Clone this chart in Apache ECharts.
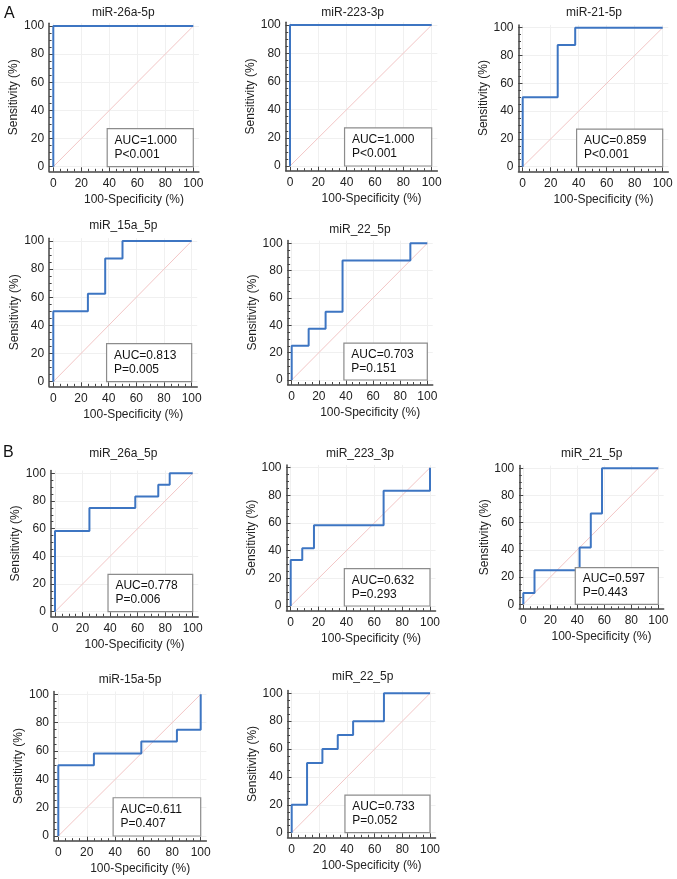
<!DOCTYPE html>
<html>
<head>
<meta charset="utf-8">
<script src="https://cdn.jsdelivr.net/npm/echarts@6/dist/echarts.min.js"></script>
<style>
html,body{margin:0;padding:0;background:#fff;}
#c{width:677px;height:879px;}
</style>
</head>
<body>
<div id="c"></div>
<script>
// ---- data ----
const titles = ['miR-26a-5p','miR-223-3p','miR-21-5p','miR_15a_5p','miR_22_5p',
                'miR_26a_5p','miR_223_3p','miR_21_5p','miR-15a-5p','miR_22_5p'];
const fpr1 = [0, 0, 100];
const tpr1 = [0, 100, 100];
const fpr2 = [0, 0, 100];
const tpr2 = [0, 100, 100];
const fpr3 = [0, 0, 25, 25, 37.5, 37.5, 100];
const tpr3 = [0, 50, 50, 87.5, 87.5, 100, 100];
const fpr4 = [0, 0, 25, 25, 37.5, 37.5, 50, 50, 100];
const tpr4 = [0, 50, 50, 62.5, 62.5, 87.5, 87.5, 100, 100];
const fpr5 = [0, 0, 12.5, 12.5, 25, 25, 37.5, 37.5, 87.5, 87.5, 100];
const tpr5 = [0, 25, 25, 37.5, 37.5, 50, 50, 87.5, 87.5, 100, 100];
const fpr6 = [0, 0, 25, 25, 58.3, 58.3, 75, 75, 83.3, 83.3, 100];
const tpr6 = [0, 58.3, 58.3, 75, 75, 83.3, 83.3, 91.7, 91.7, 100, 100];
const fpr7 = [0, 0, 8.3, 8.3, 16.7, 16.7, 66.7, 66.7, 100, 100];
const tpr7 = [0, 33.3, 33.3, 41.7, 41.7, 58.3, 58.3, 83.3, 83.3, 100];
const fpr8 = [0, 0, 8.3, 8.3, 41.7, 41.7, 50, 50, 58.3, 58.3, 100];
const tpr8 = [0, 8.3, 8.3, 25, 25, 41.7, 41.7, 66.7, 66.7, 100, 100];
const fpr9 = [0, 0, 25, 25, 58.3, 58.3, 83.3, 83.3, 100, 100];
const tpr9 = [0, 50, 50, 58.3, 58.3, 66.7, 66.7, 75, 75, 100];
const fpr10 = [0, 0, 11.1, 11.1, 22.2, 22.2, 33.3, 33.3, 44.4, 44.4, 66.7, 66.7, 100];
const tpr10 = [0, 20, 20, 50, 50, 60, 60, 70, 70, 80, 80, 100, 100];
const aucLabels = ['AUC=1.000','AUC=1.000','AUC=0.859','AUC=0.813','AUC=0.703',
                   'AUC=0.778','AUC=0.632','AUC=0.597','AUC=0.611','AUC=0.733'];
const pLabels = ['P<0.001','P<0.001','P<0.001','P=0.005','P=0.151',
                 'P=0.006','P=0.293','P=0.443','P=0.407','P=0.052'];
const diagX = [0, 100];
const diagY = [0, 100];
const majorTicks = [0, 20, 40, 60, 80, 100];
const minorTicks = [0,5,10,15,20,25,30,35,40,45,50,55,60,65,70,75,80,85,90,95,100];
const panelLetters = ['A','B'];
const xName = '100-Specificity (%)';
const yName = 'Sensitivity (%)';

const fprs = [fpr1,fpr2,fpr3,fpr4,fpr5,fpr6,fpr7,fpr8,fpr9,fpr10];
const tprs = [tpr1,tpr2,tpr3,tpr4,tpr5,tpr6,tpr7,tpr8,tpr9,tpr10];

// ---- layout (pixel positions of data 0 and 100 on each panel) ----
const layout = [
  {x0:53.3, x1:193.3, y1:26,    y0:166.7, ty:12.7,  tx:123.3},
  {x0:290,  x1:431.7, y1:25,    y0:166,   ty:12.7,  tx:352.7},
  {x0:522.7,x1:662.7, y1:27.7,  y0:166.7, ty:12.7,  tx:594},
  {x0:53.3, x1:191.7, y1:241,   y0:381.7, ty:226,   tx:123.3},
  {x0:291.7,x1:427.3, y1:243.3, y0:380,   ty:229.3, tx:360},
  {x0:55,   x1:192.7, y1:473.3, y0:611.7, ty:453.3, tx:123.3},
  {x0:290.7,x1:430,   y1:467.7, y0:606,   ty:453.3, tx:360},
  {x0:523.3,x1:658.3, y1:468.3, y0:604.3, ty:453.3, tx:591.7},
  {x0:58.3, x1:200.7, y1:694.3, y0:836,   ty:679.3, tx:130},
  {x0:291.7,x1:430,   y1:693.3, y0:832.7, ty:676.7, tx:362.7}
];
const XMIN=-3, XMAX=104, YMIN=-3.3, YMAX=102;
const FONT = '"Liberation Sans", Arial, Helvetica, sans-serif';
const axisColor = '#444';

const grids=[], xAxes=[], yAxes=[], series=[], titleComps=[];
layout.forEach((L,i)=>{
  const sx=(L.x1-L.x0)/100, sy=(L.y0-L.y1)/100;
  grids.push({left:L.x0+XMIN*sx, top:L.y1-(YMAX-100)*sy,
              width:(XMAX-XMIN)*sx, height:(YMAX-YMIN)*sy, outerBoundsMode:'none', containLabel:false});
  xAxes.push({gridIndex:i,type:'value',min:XMIN,max:XMAX,position:'bottom',
    axisLine:{onZero:false,lineStyle:{color:axisColor,width:1.5}},
    axisTick:{customValues:majorTicks,inside:true,length:4,lineStyle:{color:axisColor,width:1}},
    axisLabel:{customValues:majorTicks,color:'#222',fontSize:12,margin:6,fontFamily:FONT},
    splitLine:{show:true,lineStyle:{color:'#f0f0f0',width:1}},
    name:xName,nameLocation:'middle',nameGap:22,
    nameTextStyle:{color:'#222',fontSize:12,fontFamily:FONT,padding:[0,0,0,20]}});
  xAxes.push({gridIndex:i,type:'value',min:XMIN,max:XMAX,position:'bottom',
    axisLine:{show:false,onZero:false},
    axisTick:{customValues:minorTicks,inside:true,length:2.5,lineStyle:{color:axisColor,width:1}},
    axisLabel:{show:false},splitLine:{show:false}});
  yAxes.push({gridIndex:i,type:'value',min:YMIN,max:YMAX,position:'left',
    axisLine:{onZero:false,lineStyle:{color:axisColor,width:1.5}},
    axisTick:{customValues:majorTicks,inside:true,length:4,lineStyle:{color:axisColor,width:1}},
    axisLabel:{customValues:majorTicks,color:'#222',fontSize:12,margin:5,fontFamily:FONT},
    splitLine:{show:true,lineStyle:{color:'#f0f0f0',width:1}},
    name:yName,nameLocation:'middle',nameGap:23,
    nameTextStyle:{color:'#222',fontSize:12,fontFamily:FONT}});
  yAxes.push({gridIndex:i,type:'value',min:YMIN,max:YMAX,position:'left',
    axisLine:{show:false,onZero:false},
    axisTick:{customValues:minorTicks,inside:true,length:2.5,lineStyle:{color:axisColor,width:1}},
    axisLabel:{show:false},splitLine:{show:false}});
  const xi=2*i, yi=2*i;
  series.push({type:'line',xAxisIndex:xi,yAxisIndex:yi,silent:true,symbol:'none',z:1,
    data:diagX.map((v,k)=>[v,diagY[k]]),
    lineStyle:{color:'#f3c6c6',width:1}});
  series.push({type:'line',xAxisIndex:xi,yAxisIndex:yi,silent:true,symbol:'none',z:3,
    data:fprs[i].map((v,k)=>[v,tprs[i][k]]),
    lineStyle:{color:'#3d75c2',width:2}});
  series.push({type:'line',xAxisIndex:xi,yAxisIndex:yi,silent:true,symbol:'none',z:5,data:[],
    markArea:{silent:true,z:5,
      itemStyle:{color:'#ffffff',borderColor:'#8c8c8c',borderWidth:1.2},
      label:{show:true,position:'insideLeft',distance:8,color:'#111',fontSize:12,lineHeight:14,
             fontFamily:FONT,formatter:aucLabels[i]+'\n'+pLabels[i]},
      data:[[{coord:[38.5,0]},{coord:[100,27]}]]}});
  titleComps.push({text:titles[i],left:L.tx,top:L.ty-6,textAlign:'center',padding:0,
    textStyle:{fontSize:12,fontWeight:'normal',color:'#222',fontFamily:FONT}});
});
titleComps.push({text:panelLetters[0],left:4,top:6,padding:0,
  textStyle:{fontSize:16,fontWeight:'normal',color:'#111',fontFamily:FONT}});
titleComps.push({text:panelLetters[1],left:3,top:445,padding:0,
  textStyle:{fontSize:16,fontWeight:'normal',color:'#111',fontFamily:FONT}});

const chart = echarts.init(document.getElementById('c'), null, {renderer:'canvas'});
chart.setOption({
  animation:false,
  backgroundColor:'#fff',
  title:titleComps,
  grid:grids, xAxis:xAxes, yAxis:yAxes, series:series
});
</script>
</body>
</html>
